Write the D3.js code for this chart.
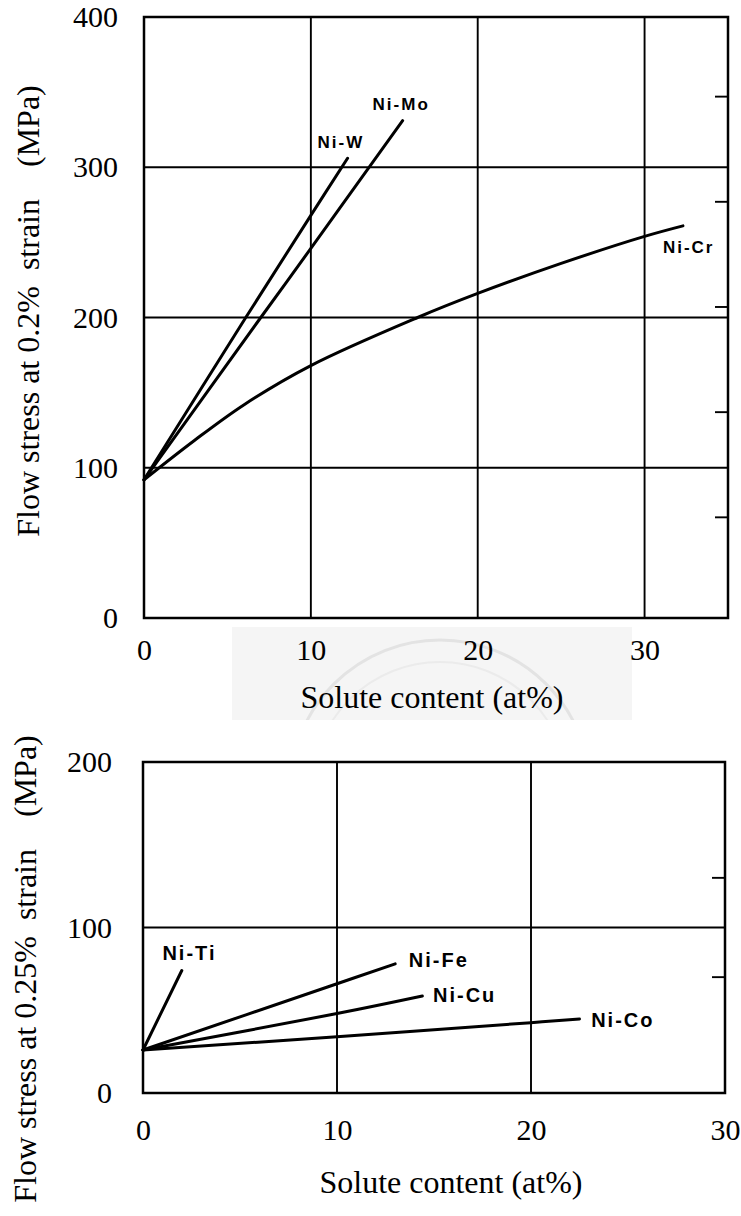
<!DOCTYPE html>
<html>
<head>
<meta charset="utf-8">
<script src="https://cdn.jsdelivr.net/npm/d3@7"></script>
<style>
  body { margin: 0; background: #fff; }
  svg { display: block; }
  .tick text { font-family: "Liberation Serif", "Times New Roman", serif; fill: #000; }
  .curve { fill: none; stroke: #000; stroke-width: 3; stroke-linecap: round; }
  .grid { stroke: #000; stroke-width: 1.9; }
  .frame { fill: none; stroke: #000; stroke-width: 2.5; }
  .curve_label { font-family: "Liberation Sans", Arial, sans-serif; font-weight: bold; fill: #000; }
  .title { font-family: "Liberation Serif", "Times New Roman", serif; fill: #000; white-space: pre; }
</style>
</head>
<body>
<script>

// upper panel: flow stress at 0.2% strain
var topSeries = ['Ni-W', 'Ni-Mo', 'Ni-Cr'];
var topNiW = [[0, 92], [6.1, 200], [10, 268], [12.2, 306]];
var topNiMo = [[0, 92], [7, 200], [10, 246], [15.5, 331]];
var topNiCr = [[0, 92], [3, 118], [6, 142], [10, 168], [16.4, 200],
               [20, 216], [25, 236], [30, 254], [32.3, 261]];
var topLabelAt = [[10.4, 317], [13.7, 342], [31.1, 247]];
var topXTicks = [0, 10, 20, 30];
var topYTicks = [0, 100, 200, 300, 400];
var topRightTicks = [67, 137, 207, 277, 347];

// lower panel: flow stress at 0.25% strain
var botSeries = ['Ni-Ti', 'Ni-Fe', 'Ni-Cu', 'Ni-Co'];
var botNiTi = [[0, 26], [2, 74]];
var botNiFe = [[0, 26], [10, 66], [13, 78]];
var botNiCu = [[0, 26], [10, 48], [14.4, 58.6]];
var botNiCo = [[0, 26], [10, 34], [20, 42.5], [22.5, 44.7]];
var botLabelAt = [[1.0, 84.6], [13.7, 80.4], [14.95, 59.2], [23.1, 44.1]];
var botXTicks = [0, 10, 20, 30];
var botYTicks = [0, 100, 200];
var botRightTicks = [70, 130];


var svg = d3.select('body').append('svg')
    .attr('width', 741)
    .attr('height', 1216);

// faint seal watermark behind the upper x title
var wm = svg.append('g').attr('class', 'watermark');
wm.append('clipPath').attr('id', 'wmclip')
    .append('rect').attr('x', 232).attr('y', 627).attr('width', 400).attr('height', 93);
wm.append('rect')
    .attr('x', 232).attr('y', 627).attr('width', 400).attr('height', 93)
    .attr('fill', '#f5f5f5');
wm.append('circle')
    .attr('clip-path', 'url(#wmclip)')
    .attr('cx', 440).attr('cy', 790).attr('r', 150)
    .attr('fill', 'none').attr('stroke', '#e3e3e3').attr('stroke-width', 3);
wm.append('circle')
    .attr('clip-path', 'url(#wmclip)')
    .attr('cx', 440).attr('cy', 790).attr('r', 128)
    .attr('fill', 'none').attr('stroke', '#ebebeb').attr('stroke-width', 2);


function drawPanel(cfg) {

    var x = d3.scaleLinear().domain(cfg.xDomain).range([cfg.left, cfg.right]);
    var y = d3.scaleLinear().domain(cfg.yDomain).range([cfg.bottom, cfg.top]);

    var g = svg.append('g').attr('class', 'panel');

    // grid lines (inner ones only, the frame covers the edges)
    g.selectAll('.vgrid')
        .data(cfg.xTicks.filter(function(t) { return t > cfg.xDomain[0] && t < cfg.xDomain[1]; }))
        .enter()
        .append('line')
        .attr('class', 'grid')
        .attr('x1', x).attr('x2', x)
        .attr('y1', y(cfg.yDomain[1])).attr('y2', y(cfg.yDomain[0]));

    g.selectAll('.hgrid')
        .data(cfg.yTicks.filter(function(t) { return t > cfg.yDomain[0] && t < cfg.yDomain[1]; }))
        .enter()
        .append('line')
        .attr('class', 'grid')
        .attr('y1', y).attr('y2', y)
        .attr('x1', x(cfg.xDomain[0])).attr('x2', x(cfg.xDomain[1]));

    // short ticks on the inside of the right edge
    g.selectAll('.rtick')
        .data(cfg.rightTicks)
        .enter()
        .append('line')
        .attr('class', 'grid')
        .attr('y1', y).attr('y2', y)
        .attr('x1', x(cfg.xDomain[1]) - 13).attr('x2', x(cfg.xDomain[1]));

    g.append('rect')
        .attr('class', 'frame')
        .attr('x', x(cfg.xDomain[0]))
        .attr('y', y(cfg.yDomain[1]))
        .attr('width', x(cfg.xDomain[1]) - x(cfg.xDomain[0]))
        .attr('height', y(cfg.yDomain[0]) - y(cfg.yDomain[1]));

    // axes: labels only
    var xAxis = g.append('g')
        .attr('transform', 'translate(0,' + cfg.bottom + ')')
        .call(d3.axisBottom(x).tickValues(cfg.xTicks).tickSize(0).tickPadding(cfg.xPad));
    xAxis.select('.domain').remove();
    xAxis.selectAll('text').attr('font-size', 30);

    var yAxis = g.append('g')
        .attr('transform', 'translate(' + cfg.left + ',0)')
        .call(d3.axisLeft(y).tickValues(cfg.yTicks).tickSize(0).tickPadding(cfg.yPad));
    yAxis.select('.domain').remove();
    yAxis.selectAll('text').attr('font-size', 30);

    // curves
    var line = d3.line()
        .x(function(d) { return x(d[0]); })
        .y(function(d) { return y(d[1]); })
        .curve(d3.curveCatmullRom);

    g.selectAll('.curve')
        .data(cfg.curves)
        .enter()
        .append('path')
        .attr('class', 'curve')
        .attr('d', line);

    g.selectAll('.curve_label')
        .data(cfg.names)
        .enter()
        .append('text')
        .attr('class', 'curve_label')
        .attr('x', function(n, i) { return x(cfg.labelAt[i][0]); })
        .attr('y', function(n, i) { return y(cfg.labelAt[i][1]); })
        .attr('dy', '0.36em')
        .attr('font-size', cfg.labelSize)
        .attr('letter-spacing', cfg.labelSpacing)
        .text(function(n) { return n; });

    // titles
    g.append('text')
        .attr('class', 'title')
        .attr('font-size', 32)
        .attr('text-anchor', 'middle')
        .attr('x', cfg.xTitle[0])
        .attr('y', cfg.xTitle[1])
        .text('Solute content (at%)');

    g.append('text')
        .attr('class', 'title')
        .attr('xml:space', 'preserve')
        .attr('font-size', 32)
        .attr('text-anchor', 'middle')
        .attr('transform', 'translate(' + cfg.yTitle[0] + ',' + cfg.yTitle[1] + ') rotate(-90)')
        .attr('dy', '0.35em')
        .text(cfg.yTitleText);
}


drawPanel({
    left: 144, right: 728, top: 17, bottom: 618,
    xDomain: [0, 35], yDomain: [0, 400],
    xTicks: topXTicks, yTicks: topYTicks, rightTicks: topRightTicks,
    xPad: 21, yPad: 26,
    curves: [topNiW, topNiMo, topNiCr],
    names: topSeries, labelAt: topLabelAt,
    labelSize: 17, labelSpacing: 2,
    xTitle: [432, 708],
    yTitle: [28, 311],
    yTitleText: 'Flow stress at 0.2%  strain    (MPa)'
});

drawPanel({
    left: 143, right: 725, top: 762, bottom: 1093,
    xDomain: [0, 30], yDomain: [0, 200],
    xTicks: botXTicks, yTicks: botYTicks, rightTicks: botRightTicks,
    xPad: 26, yPad: 31,
    curves: [botNiTi, botNiFe, botNiCu, botNiCo],
    names: botSeries, labelAt: botLabelAt,
    labelSize: 20, labelSpacing: 2,
    xTitle: [451, 1193],
    yTitle: [25, 969],
    yTitleText: 'Flow stress at 0.25%  strain    (MPa)'
});

</script>
</body>
</html>
